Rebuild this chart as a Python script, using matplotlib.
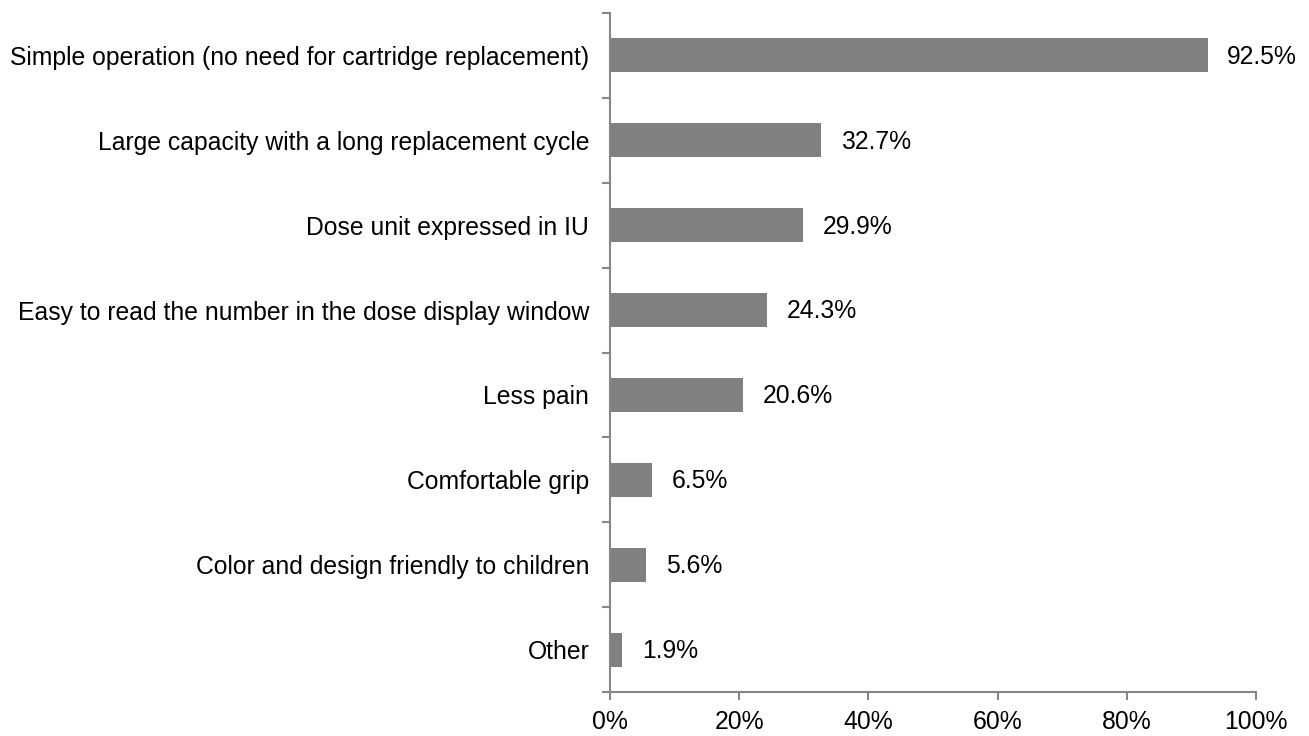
import matplotlib
matplotlib.use("Agg")
import matplotlib.pyplot as plt
from matplotlib.ticker import FixedLocator, PercentFormatter

plt.rcParams['font.family'] = ['Liberation Sans', 'DejaVu Sans']

categories = [
    "Simple operation (no need for cartridge replacement)",
    "Large capacity with a long replacement cycle",
    "Dose unit expressed in IU",
    "Easy to read the number in the dose display window",
    "Less pain",
    "Comfortable grip",
    "Color and design friendly to children",
    "Other",
]
values = [92.5, 32.7, 29.9, 24.3, 20.6, 6.5, 5.6, 1.9]
xticks = [0, 20, 40, 60, 80, 100]

fig = plt.figure(figsize=(13.09, 7.36), dpi=100)
ax = fig.add_axes([0.466, 0.0598, 0.4935, 0.9225])

n = len(categories)
ypos = list(range(n))
ax.barh(ypos, values, height=0.4, color='#808080')
ax.set_ylim(n - 0.5, -0.5)
ax.set_xlim(0, 100)

axis_col = '#868686'
for s in ['top', 'right']:
    ax.spines[s].set_visible(False)
for s in ['left', 'bottom']:
    ax.spines[s].set_color(axis_col)
    ax.spines[s].set_linewidth(1.5)

fs = 17.8
ax.set_yticks(ypos)
ax.set_yticklabels(categories, fontsize=fs)
ax.tick_params(axis='y', which='major', length=0, pad=15)
ax.yaxis.set_minor_locator(FixedLocator([i - 0.5 for i in range(n + 1)]))
ax.tick_params(axis='y', which='minor', length=6, width=1.5, color=axis_col)

ax.set_xticks(xticks)
ax.xaxis.set_major_formatter(PercentFormatter(decimals=0))
ax.tick_params(axis='x', length=6, width=1.5, color=axis_col, labelsize=fs, pad=7)

for y, v in zip(ypos, values):
    ax.annotate(f"{v:.1f}%", xy=(v, y), xytext=(14, -1), textcoords='offset points',
                va='center', ha='left', fontsize=fs)

fig.savefig("out.png", dpi=100)
